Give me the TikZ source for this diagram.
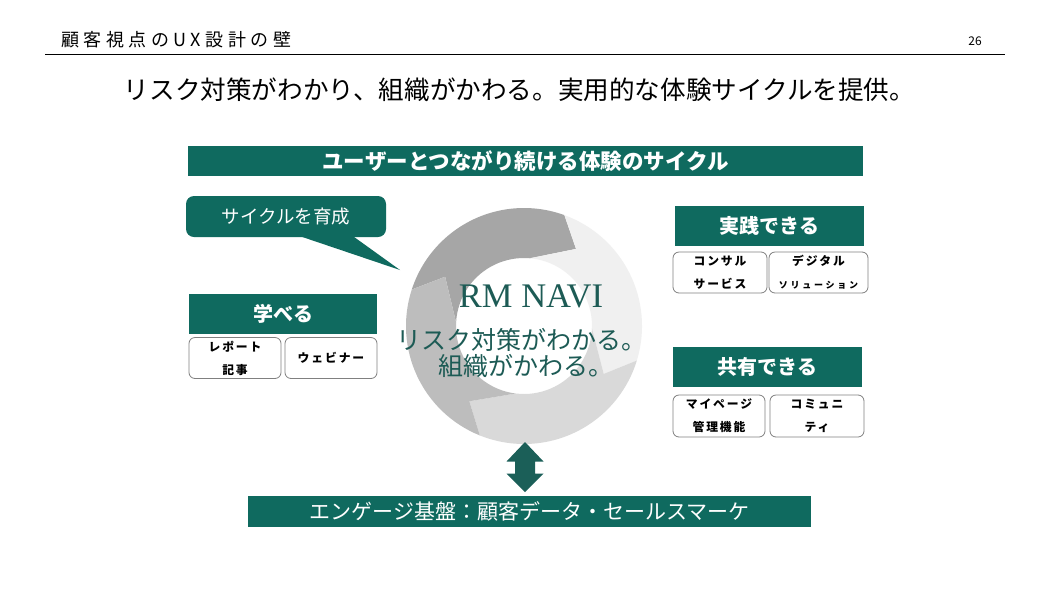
\documentclass[tikz,border=0pt]{standalone}
\usepackage{fontspec}
\setmainfont{Liberation Serif}
\newfontfamily\jp{Noto Sans CJK JP}
\newfontfamily\jphdr[LetterSpace=25]{Noto Sans CJK JP}
\newfontfamily\jpsub[LetterSpace=16]{Noto Sans CJK JP}
\newfontfamily\jpsubs[LetterSpace=30]{Noto Sans CJK JP}
\usetikzlibrary{calc}
\definecolor{tealbar}{HTML}{0F6A5F}
\definecolor{tealarrow}{HTML}{1B5F58}
\definecolor{tealtext}{HTML}{1D5B55}
\definecolor{segA}{HTML}{A6A6A6}
\definecolor{segB}{HTML}{F0F0F0}
\definecolor{segC}{HTML}{D9D9D9}
\definecolor{segD}{HTML}{BDBDBD}
\def\ringRo{118}
\def\ringRm{93}
\def\ringRi{68}
\newcommand\ringseg[3]{%
  \fill[#3] (#1:\ringRo) arc[start angle=#1, end angle=#2, radius=\ringRo]
    -- ({#2-14}:\ringRm) -- ({#2+15}:\ringRi)
    arc[start angle={#2+15}, end angle={#1+15}, radius=\ringRi]
    -- ({#1-14}:\ringRm) -- cycle;}
\tikzset{
  bar/.style={fill=tealbar, text=white, inner sep=0pt, font=\jp\bfseries\fontsize{20}{24}\selectfont},
  subbox/.style={draw=black!50, line width=0.8pt, rounded corners=6pt, fill=white, inner sep=0pt,
    minimum height=41pt, align=center, text=black, font=\jpsub\bfseries\fontsize{11.8}{23}\selectfont},
  ringtext/.style={text=tealtext, inner sep=0pt},
}
\begin{document}
\begin{tikzpicture}[x=1pt,y=-1pt]
\useasboundingbox (0,0) rectangle (1050,590);
\fill[white] (0,0) rectangle (1050,590);

% header
\node[anchor=west, inner sep=0pt, font=\jphdr\fontsize{18}{20}\selectfont] (hdr) at (61,40) {顧客視点のUX設計の壁};
\node[inner sep=0pt, font=\jp\fontsize{12}{14}\selectfont] (pg) at (975,41) {26};
\coordinate (hl) at (45,54);
\coordinate (hr) at (1005,54);
\draw[line width=0.9pt] (hl) -- (hr);

% title
\node[inner sep=0pt, font=\jp\fontsize{25.6}{30}\selectfont] (title) at (519.5,90) {リスク対策がわかり、組織がかわる。実用的な体験サイクルを提供。};

% top banner
\node[bar, minimum width=675pt, minimum height=30pt, font=\jp\bfseries\fontsize{21.5}{24}\selectfont] (cyclebar) at (525.5,161) {ユーザーとつながり続ける体験のサイクル};

% ring
\begin{scope}[shift={(524,326)}, yscale=-1]
  \ringseg{162}{70}{segA}
  \ringseg{70}{-17}{segB}
  \ringseg{-17}{-112}{segC}
  \ringseg{-112}{-198}{segD}
\end{scope}

% ring texts
\node[ringtext, font=\fontsize{34.5}{36}\selectfont] (rm) at (531,296) {RM NAVI};
\node[ringtext, font=\jp\fontsize{25}{28}\selectfont] (l2) at (521.5,340) {リスク対策がわかる。};
\node[ringtext, font=\jp\fontsize{25}{28}\selectfont] (l3) at (526,366) {組織がかわる。};

% callout
\node[fill=tealbar, rounded corners=8pt, minimum width=200pt, minimum height=41pt, inner sep=0pt,
  text=white, font=\jp\fontsize{18.5}{22}\selectfont] (cyc) at (286,216.5) {サイクルを育成};
\coordinate (tailtip) at (400,270);
\fill[tealbar] ($(cyc.south)+(14,-1)$) -- (tailtip) -- ($(cyc.south)+(67,-1)$) -- cycle;

% learn
\node[bar, minimum width=188pt, minimum height=40pt] (learn) at (283,314) {学べる};
\node[subbox, minimum width=92pt] (rep) at (235,358) {レポート\\記事};
\node[subbox, minimum width=92pt] (web) at (331,358) {ウェビナー};

% practice
\node[bar, minimum width=189pt, minimum height=40pt] (prac) at (769.5,226) {実践できる};
\node[subbox, minimum width=94pt] (cons) at (720,272.5) {コンサル\\サービス};
\node[subbox, minimum width=99pt] (digi) at (818.5,272.5) {デジタル\\{\jpsubs\bfseries\fontsize{9}{23}\selectfont ソリューション}};

% share
\node[bar, minimum width=189pt, minimum height=40pt] (share) at (767.5,367) {共有できる};
\node[subbox, minimum width=92pt, minimum height=42pt] (myp) at (719,416) {マイページ\\管理機能};
\node[subbox, minimum width=94pt, minimum height=42pt] (comm) at (817,416) {コミュニ\\ティ};

% bottom banner
\node[bar, minimum width=563pt, minimum height=31pt, font=\jp\fontsize{21}{24}\selectfont] (base) at (529.5,511) {エンゲージ基盤：顧客データ・セールスマーケ};

% double arrow
\coordinate (atop) at (525,442);
\coordinate (abot) at (525,492);
\fill[tealarrow] (atop) -- ++(18.5,19.5) -- ++(-8.5,0) -- ++(0,12) -- ++(8.5,0) -- (abot)
  -- ++(-18.5,-18.5) -- ++(8.5,0) -- ++(0,-12) -- ++(-8.5,0) -- cycle;
\end{tikzpicture}
\end{document}
